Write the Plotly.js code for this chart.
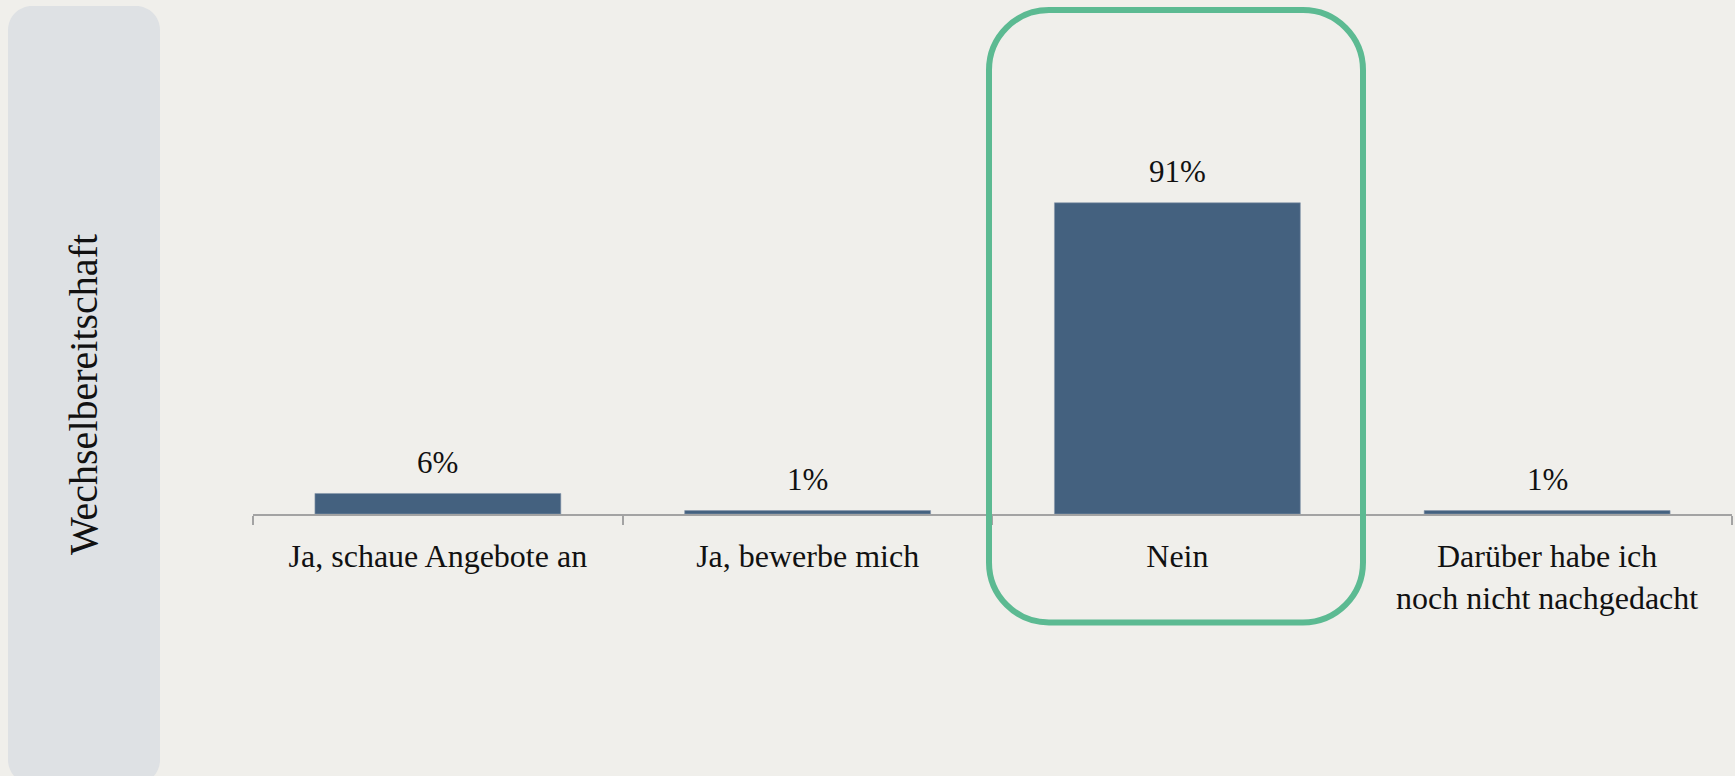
<!DOCTYPE html>
<html>
<head>
<meta charset="utf-8">
<script src="https://cdn.plot.ly/plotly-3.0.1.min.js"></script>
<style>html,body{margin:0;padding:0;background:#f0efeb;}</style>
</head>
<body>
<div id="chart" style="width:1735px;height:776px;"></div>
<script>
const categories = ["Ja, schaue Angebote an", "Ja, bewerbe mich", "Nein", "Darüber habe ich<br>noch nicht nachgedacht"];
const values = [6, 1, 91, 1];
const valueLabels = ["6%", "1%", "91%", "1%"];
const panelTitle = "Wechselbereitschaft";

const W = 1735, H = 776;
const M = {l: 253, r: 3, t: 172, b: 262};
const pw = W - M.l - M.r, ph = H - M.t - M.b;
const px = x => (x - M.l) / pw;
const py = y => (H - M.b - y) / ph;

function roundRect(x0, y0, x1, y1, r) {
  const k = 0.5523 * r;
  const P = (x, y) => px(x) + "," + py(y);
  return "M" + P(x0 + r, y0) +
    " L" + P(x1 - r, y0) +
    " C" + P(x1 - r + k, y0) + " " + P(x1, y0 + r - k) + " " + P(x1, y0 + r) +
    " L" + P(x1, y1 - r) +
    " C" + P(x1, y1 - r + k) + " " + P(x1 - r + k, y1) + " " + P(x1 - r, y1) +
    " L" + P(x0 + r, y1) +
    " C" + P(x0 + r - k, y1) + " " + P(x0, y1 - r + k) + " " + P(x0, y1 - r) +
    " L" + P(x0, y0 + r) +
    " C" + P(x0, y0 + r - k) + " " + P(x0 + r - k, y0) + " " + P(x0 + r, y0) + " Z";
}

const font = "Liberation Serif, Times New Roman, serif";

const trace = {
  type: "bar",
  x: categories,
  y: values,
  marker: {color: "#44617f", line: {color: "#8797ab", width: 0.6}},
  width: 0.665,
  hoverinfo: "none"
};

const annotations = categories.map((c, i) => ({
  x: c, y: values[i], xref: "x", yref: "y",
  text: valueLabels[i], showarrow: false,
  yanchor: "middle", yshift: 31,
  font: {family: font, size: 31, color: "#111"}
}));
annotations.push({
  xref: "paper", yref: "paper", x: px(83), y: py(395),
  text: panelTitle, textangle: -90, showarrow: false,
  xanchor: "center", yanchor: "middle",
  font: {family: font, size: 40, color: "#111"}
});

const layout = {
  width: W, height: H,
  margin: M,
  paper_bgcolor: "#f0efeb",
  plot_bgcolor: "rgba(0,0,0,0)",
  showlegend: false,
  xaxis: {
    type: "category",
    showline: true, linecolor: "#a3a3a3", linewidth: 1.5,
    ticks: "outside", tickson: "boundaries", ticklen: 9, tickwidth: 1.5, tickcolor: "#a3a3a3",
    showgrid: false, zeroline: false,
    tickfont: {family: font, size: 32, color: "#111"},
    ticklabelstandoff: 13
  },
  yaxis: {range: [0, 100], visible: false, fixedrange: true},
  annotations: annotations,
  shapes: [
    {type: "path", xref: "paper", yref: "paper", layer: "below",
     path: roundRect(8, 6, 160, 784, 24), fillcolor: "#dee1e4", line: {width: 0}},
    {type: "path", xref: "paper", yref: "paper", layer: "above",
     path: roundRect(989, 10, 1363, 622.5, 60), fillcolor: "rgba(0,0,0,0)",
     line: {color: "#5cba92", width: 6}}
  ]
};

Plotly.newPlot("chart", [trace], layout, {displayModeBar: false, staticPlot: true});
</script>
</body>
</html>
